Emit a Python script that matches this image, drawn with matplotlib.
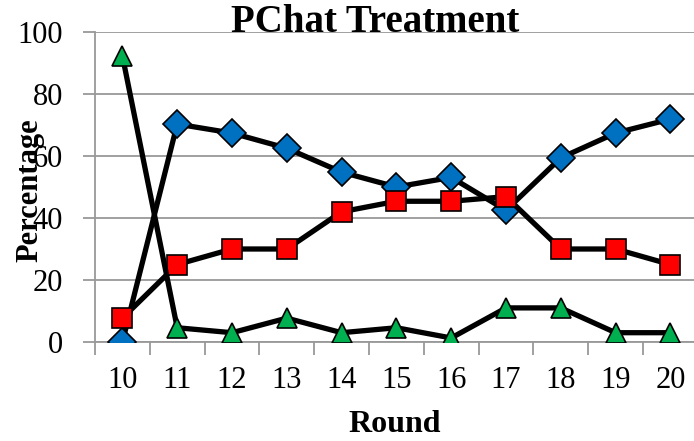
import matplotlib
matplotlib.use("Agg")
import matplotlib.pyplot as plt

rounds = [10, 11, 12, 13, 14, 15, 16, 17, 18, 19, 20]
blue = [0, 70.3, 67.4, 62.5, 54.8, 50.0, 53.1, 42.5, 59.4, 67.4, 71.9]
red = [7.7, 25.0, 30.0, 30.0, 42.0, 45.4, 45.4, 46.9, 30.0, 30.0, 25.0]
green = [92.3, 4.6, 3.0, 7.7, 3.0, 4.6, 1.3, 11.0, 11.0, 3.0, 3.0]
yticks = [0, 20, 40, 60, 80, 100]

plt.rcParams['font.family'] = ['Liberation Serif', 'DejaVu Serif']

fig = plt.figure(figsize=(6.94, 4.41), dpi=100)
ax = fig.add_axes([95/694, 1-342/441, 1-95/694, (342-32)/441])

pos = list(range(len(rounds)))
lw = 3.8
ax.plot(pos, blue, color='black', lw=lw, marker='D', ms=14, mfc='#0070C0', mec='black', mew=1.2, zorder=3)
ax.plot(pos, red, color='black', lw=lw, marker='s', ms=14, mfc='#FF0000', mec='black', mew=1.2, zorder=4)
ax.plot(pos, green, color='black', lw=lw, marker='^', ms=15, mfc='#00B050', mec='black', mew=1.2, zorder=5)

ax.set_xlim(-0.5, -0.5 + (694-95)/54.8)
ax.set_ylim(0, 100)
ax.set_yticks(yticks)
ax.set_yticklabels([str(v) for v in yticks], fontsize=22)
ax.grid(axis='y', color='#999999', lw=1.3)
ax.set_axisbelow(True)
ax.set_xticks(pos)
ax.set_xticklabels([str(r) for r in rounds], fontsize=22)
ax.set_xticks([p + 0.5 for p in pos[:-1]] + [-0.5], minor=True)
ax.tick_params(axis='x', which='major', length=0, pad=17)
ax.tick_params(axis='x', which='minor', length=9, color='#999999', width=1.3, direction='out')
ax.tick_params(axis='y', length=9, color='#999999', width=1.3, pad=14)
for s in ['top', 'right']:
    ax.spines[s].set_visible(False)
for s in ['left', 'bottom']:
    ax.spines[s].set_color('#999999')
    ax.spines[s].set_linewidth(1.3)

fig.text(375/694, 1-23/441, 'PChat Treatment', ha='center', va='center', fontsize=28, fontweight='bold')
fig.text(395/694, 1-425/441, 'Round', ha='center', va='center', fontsize=23, fontweight='bold')
fig.text(30/694, 1-190/441, 'Percentage', ha='center', va='center', rotation=90, fontsize=22, fontweight='bold')

fig.savefig('out.png', dpi=100)
